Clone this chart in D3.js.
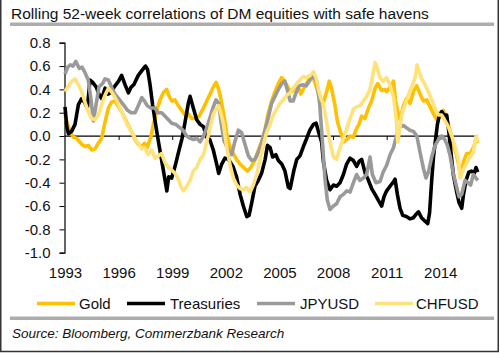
<!DOCTYPE html>
<html>
<head>
<meta charset="utf-8">
<script src="https://cdn.jsdelivr.net/npm/d3@7"></script>
<style>
  body { margin: 0; background: #fff; }
  svg { display: block; font-family: 'Liberation Sans', Arial, sans-serif; }
</style>
</head>
<body>
<script>
/* DATA: rolling 52-week correlations as [year, value] */
const gold = [
  [1993.0, 0.18], [1993.1, 0.12], [1993.28, 0.04], [1993.47, -0.01], [1993.65, -0.02],
  [1993.93, -0.07], [1994.12, -0.09], [1994.3, -0.08], [1994.49, -0.12], [1994.68, -0.11],
  [1994.87, -0.06], [1995.05, -0.02], [1995.24, 0.12], [1995.43, 0.24], [1995.6, 0.29],
  [1995.8, 0.3], [1996.0, 0.25], [1996.17, 0.21], [1996.36, 0.15], [1996.54, 0.09],
  [1996.72, 0.04], [1996.92, -0.03], [1997.1, -0.07], [1997.29, -0.09], [1997.45, -0.06],
  [1997.6, -0.1], [1997.8, -0.01], [1997.95, 0.1], [1998.13, 0.22], [1998.32, 0.31],
  [1998.5, 0.37], [1998.69, 0.4], [1998.8, 0.35], [1998.97, 0.3], [1999.15, 0.31],
  [1999.34, 0.26], [1999.53, 0.22], [1999.72, 0.18], [1999.9, 0.19], [2000.09, 0.15],
  [2000.3, 0.15], [2000.5, 0.17], [2000.75, 0.24], [2000.93, 0.3], [2001.12, 0.36],
  [2001.3, 0.42], [2001.46, 0.46], [2001.6, 0.4], [2001.75, 0.3], [2001.9, 0.17],
  [2002.04, 0.03], [2002.2, -0.08], [2002.42, -0.15], [2002.6, -0.2], [2002.79, -0.24],
  [2003.0, -0.27], [2003.2, -0.3], [2003.4, -0.27], [2003.64, -0.2], [2003.82, -0.12],
  [2004.0, -0.05], [2004.2, 0.06], [2004.38, 0.2], [2004.57, 0.3], [2004.75, 0.38],
  [2004.94, 0.45], [2005.12, 0.5], [2005.3, 0.47], [2005.5, 0.41], [2005.7, 0.38],
  [2005.87, 0.42], [2006.06, 0.42], [2006.2, 0.36], [2006.4, 0.42], [2006.62, 0.48],
  [2006.85, 0.52], [2007.0, 0.45], [2007.15, 0.38], [2007.3, 0.32], [2007.46, 0.29],
  [2007.64, 0.38], [2007.79, 0.47], [2007.93, 0.4], [2008.1, 0.27], [2008.25, 0.12],
  [2008.45, 0.02], [2008.6, -0.05], [2008.76, -0.03], [2008.95, 0.0], [2009.14, -0.01],
  [2009.3, 0.06], [2009.45, 0.1], [2009.6, 0.17], [2009.79, 0.15], [2009.98, 0.24],
  [2010.16, 0.3], [2010.35, 0.41], [2010.5, 0.45], [2010.72, 0.39], [2010.9, 0.4],
  [2011.0, 0.38], [2011.2, 0.42], [2011.38, 0.47], [2011.5, 0.3], [2011.66, 0.18],
  [2011.75, 0.14], [2011.94, 0.26], [2012.1, 0.32], [2012.31, 0.28], [2012.5, 0.38],
  [2012.68, 0.43], [2012.87, 0.36], [2013.05, 0.3], [2013.24, 0.31], [2013.43, 0.25],
  [2013.62, 0.19], [2013.8, 0.14], [2014.0, 0.18], [2014.18, 0.22], [2014.36, 0.15],
  [2014.55, 0.05], [2014.73, -0.07], [2014.92, -0.17], [2015.05, -0.26], [2015.15, -0.34],
  [2015.3, -0.22], [2015.48, -0.15], [2015.67, -0.15], [2015.85, -0.1], [2016.0, -0.03],
  [2016.1, -0.06]
];

const treasuries = [
  [1993.0, 0.25], [1993.1, 0.08], [1993.19, 0.02], [1993.37, 0.04], [1993.56, 0.1],
  [1993.75, 0.27], [1993.93, 0.32], [1994.1, 0.29], [1994.25, 0.24], [1994.4, 0.48],
  [1994.55, 0.46], [1994.75, 0.42], [1994.9, 0.36], [1995.05, 0.32], [1995.24, 0.41],
  [1995.4, 0.36], [1995.55, 0.37], [1995.8, 0.43], [1996.0, 0.47], [1996.17, 0.52],
  [1996.36, 0.44], [1996.55, 0.37], [1996.7, 0.42], [1996.85, 0.44], [1997.1, 0.52],
  [1997.3, 0.56], [1997.5, 0.6], [1997.62, 0.57], [1997.75, 0.45], [1997.9, 0.27],
  [1998.05, 0.12], [1998.22, -0.04], [1998.4, -0.2], [1998.6, -0.38], [1998.7, -0.47],
  [1998.8, -0.35], [1998.97, -0.36], [1999.16, -0.26], [1999.35, -0.14], [1999.55, -0.02],
  [1999.72, 0.12], [1999.9, 0.28], [2000.0, 0.34], [2000.2, 0.23], [2000.37, 0.14],
  [2000.56, 0.1], [2000.75, 0.08], [2000.93, -0.01], [2001.1, -0.03], [2001.3, -0.12],
  [2001.5, -0.25], [2001.6, -0.32], [2001.77, -0.24], [2001.95, -0.19], [2002.15, -0.2],
  [2002.4, -0.26], [2002.6, -0.35], [2002.8, -0.5], [2002.98, -0.6], [2003.17, -0.69],
  [2003.3, -0.68], [2003.45, -0.57], [2003.63, -0.43], [2003.82, -0.38], [2004.0, -0.32],
  [2004.2, -0.2], [2004.33, -0.08], [2004.48, -0.1], [2004.62, -0.18], [2004.8, -0.16],
  [2004.94, -0.21], [2005.13, -0.24], [2005.31, -0.3], [2005.5, -0.44], [2005.6, -0.45],
  [2005.8, -0.3], [2005.97, -0.2], [2006.15, -0.17], [2006.34, -0.09], [2006.5, -0.03],
  [2006.7, 0.05], [2006.9, 0.1], [2007.05, 0.11], [2007.2, 0.03], [2007.36, -0.05],
  [2007.46, -0.22], [2007.64, -0.38], [2007.83, -0.46], [2008.02, -0.42], [2008.2, -0.43],
  [2008.39, -0.4], [2008.58, -0.33], [2008.76, -0.24], [2008.95, -0.19], [2009.14, -0.21],
  [2009.32, -0.26], [2009.45, -0.22], [2009.6, -0.2], [2009.8, -0.32], [2009.98, -0.38],
  [2010.16, -0.45], [2010.35, -0.5], [2010.53, -0.55], [2010.72, -0.6], [2010.85, -0.52],
  [2011.0, -0.47], [2011.19, -0.43], [2011.35, -0.4], [2011.47, -0.37], [2011.6, -0.5],
  [2011.75, -0.62], [2011.9, -0.68], [2012.1, -0.69], [2012.3, -0.71], [2012.5, -0.7],
  [2012.65, -0.67], [2012.78, -0.65], [2012.95, -0.7], [2013.15, -0.73], [2013.3, -0.75],
  [2013.4, -0.66], [2013.52, -0.38], [2013.62, -0.18], [2013.72, -0.05], [2013.84, 0.1],
  [2013.95, 0.18], [2014.08, 0.21], [2014.2, 0.18], [2014.36, 0.18], [2014.47, 0.05],
  [2014.59, -0.13], [2014.73, -0.33], [2014.92, -0.48], [2015.05, -0.57], [2015.2, -0.62],
  [2015.3, -0.5], [2015.44, -0.38], [2015.6, -0.31], [2015.75, -0.3], [2015.9, -0.32],
  [2016.0, -0.27], [2016.1, -0.31]
];

const jpyusd = [
  [1993.0, 0.53], [1993.15, 0.59], [1993.3, 0.61], [1993.45, 0.6], [1993.6, 0.64],
  [1993.8, 0.58], [1993.95, 0.59], [1994.1, 0.55], [1994.3, 0.48], [1994.45, 0.32],
  [1994.59, 0.13], [1994.72, 0.25], [1994.9, 0.42], [1995.1, 0.45], [1995.24, 0.49],
  [1995.43, 0.48], [1995.6, 0.42], [1995.8, 0.36], [1996.0, 0.32], [1996.26, 0.27],
  [1996.5, 0.22], [1996.7, 0.2], [1996.92, 0.2], [1997.1, 0.26], [1997.3, 0.33],
  [1997.45, 0.3], [1997.6, 0.26], [1997.8, 0.24], [1998.04, 0.24], [1998.2, 0.2],
  [1998.41, 0.2], [1998.6, 0.17], [1998.79, 0.14], [1998.97, 0.11], [1999.2, 0.1],
  [1999.44, 0.07], [1999.6, 0.05], [1999.81, 0.0], [2000.0, -0.02], [2000.2, -0.03],
  [2000.37, -0.02], [2000.56, -0.05], [2000.75, 0.0], [2000.93, 0.07], [2001.12, 0.16],
  [2001.3, 0.25], [2001.45, 0.31], [2001.6, 0.28], [2001.75, 0.1], [2001.9, -0.04],
  [2002.14, -0.12], [2002.33, -0.16], [2002.5, -0.05], [2002.7, 0.05], [2002.88, 0.03],
  [2003.07, -0.07], [2003.26, -0.17], [2003.45, -0.21], [2003.63, -0.2], [2003.82, -0.14],
  [2004.0, -0.06], [2004.19, 0.05], [2004.38, 0.16], [2004.56, 0.28], [2004.75, 0.34],
  [2004.94, 0.4], [2005.13, 0.45], [2005.3, 0.47], [2005.45, 0.39], [2005.6, 0.3],
  [2005.77, 0.3], [2005.95, 0.38], [2006.1, 0.43], [2006.3, 0.44], [2006.5, 0.43],
  [2006.71, 0.48], [2006.9, 0.52], [2007.08, 0.47], [2007.25, 0.28], [2007.42, -0.08],
  [2007.55, -0.37], [2007.68, -0.55], [2007.83, -0.63], [2008.02, -0.6], [2008.2, -0.58],
  [2008.39, -0.52], [2008.58, -0.5], [2008.76, -0.47], [2008.95, -0.48], [2009.14, -0.4],
  [2009.32, -0.33], [2009.5, -0.38], [2009.7, -0.36], [2009.88, -0.33], [2010.07, -0.18],
  [2010.2, -0.33], [2010.4, -0.4], [2010.63, -0.39], [2010.8, -0.31], [2011.0, -0.25],
  [2011.19, -0.16], [2011.38, -0.1], [2011.56, 0.01], [2011.75, 0.08], [2011.94, 0.09],
  [2012.12, 0.07], [2012.3, 0.05], [2012.5, 0.04], [2012.69, 0.0], [2012.87, -0.14],
  [2013.06, -0.28], [2013.2, -0.36], [2013.35, -0.3], [2013.52, -0.18], [2013.71, -0.08],
  [2013.9, -0.03], [2014.08, 0.0], [2014.25, -0.03], [2014.4, -0.08], [2014.55, -0.17],
  [2014.73, -0.32], [2014.92, -0.44], [2015.05, -0.52], [2015.2, -0.5], [2015.39, -0.38],
  [2015.55, -0.4], [2015.7, -0.42], [2015.85, -0.33], [2016.0, -0.36], [2016.1, -0.38]
];

const chfusd = [
  [1993.0, 0.38], [1993.15, 0.42], [1993.37, 0.47], [1993.56, 0.49], [1993.75, 0.44],
  [1993.93, 0.38], [1994.12, 0.29], [1994.3, 0.21], [1994.49, 0.15], [1994.68, 0.14],
  [1994.87, 0.18], [1995.05, 0.27], [1995.24, 0.35], [1995.43, 0.41], [1995.6, 0.38],
  [1995.8, 0.33], [1996.0, 0.27], [1996.17, 0.21], [1996.36, 0.14], [1996.54, 0.08],
  [1996.72, 0.04], [1996.92, -0.02], [1997.1, -0.06], [1997.29, -0.11], [1997.45, -0.1],
  [1997.66, -0.16], [1997.85, -0.12], [1998.04, -0.19], [1998.23, -0.17], [1998.41, -0.15],
  [1998.6, -0.23], [1998.8, -0.27], [1998.97, -0.29], [1999.15, -0.32], [1999.34, -0.37],
  [1999.5, -0.44], [1999.65, -0.47], [1999.81, -0.43], [2000.0, -0.38], [2000.18, -0.3],
  [2000.37, -0.27], [2000.56, -0.2], [2000.75, -0.16], [2000.93, -0.05], [2001.12, 0.07],
  [2001.3, 0.19], [2001.49, 0.24], [2001.6, 0.26], [2001.75, 0.18], [2001.87, 0.1],
  [2002.05, -0.1], [2002.24, -0.25], [2002.42, -0.36], [2002.61, -0.42], [2002.79, -0.45],
  [2002.98, -0.46], [2003.16, -0.44], [2003.36, -0.48], [2003.54, -0.42], [2003.73, -0.33],
  [2003.91, -0.2], [2004.1, -0.08], [2004.28, 0.03], [2004.48, 0.1], [2004.66, 0.18],
  [2004.85, 0.23], [2005.03, 0.28], [2005.22, 0.31], [2005.4, 0.35], [2005.6, 0.37],
  [2005.77, 0.41], [2005.97, 0.45], [2006.15, 0.48], [2006.34, 0.51], [2006.5, 0.5],
  [2006.72, 0.52], [2006.9, 0.55], [2007.05, 0.5], [2007.18, 0.4], [2007.3, 0.33],
  [2007.46, 0.27], [2007.64, 0.12], [2007.83, -0.05], [2008.02, -0.18], [2008.2, -0.2],
  [2008.39, -0.1], [2008.58, -0.02], [2008.76, 0.06], [2008.95, 0.15], [2009.14, 0.23],
  [2009.32, 0.25], [2009.51, 0.26], [2009.7, 0.3], [2009.88, 0.34], [2010.07, 0.4],
  [2010.2, 0.5], [2010.35, 0.63], [2010.45, 0.6], [2010.63, 0.5], [2010.8, 0.47],
  [2011.0, 0.5], [2011.19, 0.43], [2011.38, 0.34], [2011.52, 0.17], [2011.62, -0.05],
  [2011.72, 0.05], [2011.84, 0.18], [2012.03, 0.27], [2012.21, 0.35], [2012.4, 0.42],
  [2012.59, 0.5], [2012.7, 0.61], [2012.8, 0.56], [2012.96, 0.49], [2013.15, 0.44],
  [2013.33, 0.38], [2013.52, 0.31], [2013.7, 0.24], [2013.9, 0.18], [2014.08, 0.18],
  [2014.27, 0.13], [2014.45, 0.08], [2014.64, 0.0], [2014.83, -0.09], [2015.01, -0.2],
  [2015.11, -0.36], [2015.25, -0.3], [2015.48, -0.23], [2015.67, -0.18], [2015.85, -0.14],
  [2016.0, 0.0], [2016.1, -0.05]
];

const seriesNames = ['Gold', 'Treasuries', 'JPYUSD', 'CHFUSD'];
const seriesColors = ['#ffc000', '#000000', '#9a9a9a', '#ffe27a'];
const yTicks = [0.8, 0.6, 0.4, 0.2, 0.0, -0.2, -0.4, -0.6, -0.8, -1.0];
const xTicks = [1993, 1996, 1999, 2002, 2005, 2008, 2011, 2014];

const allSeries = [gold, treasuries, jpyusd, chfusd];

/* LAYOUT */
const width = 500;
const height = 353;
const font = "'Liberation Sans', Arial, sans-serif";

const svg = d3.select('body')
  .append('svg')
  .attr('width', width)
  .attr('height', height);

// outer frame
svg.append('rect')
  .attr('x', 0.75)
  .attr('y', -4)
  .attr('width', 497.5)
  .attr('height', 355.5)
  .attr('fill', 'none')
  .attr('stroke', '#333')
  .attr('stroke-width', 1.5);

svg.append('text')
  .attr('x', 11)
  .attr('y', 18.5)
  .attr('font-size', 15.5)
  .attr('fill', '#111')
  .text('Rolling 52-week correlations of DM equities with safe havens');

// grey rules under the title and above the source
svg.append('rect').attr('x', 10).attr('y', 22.5).attr('width', 484).attr('height', 3.5).attr('fill', '#adadad');
svg.append('rect').attr('x', 10).attr('y', 316.5).attr('width', 484).attr('height', 3.5).attr('fill', '#adadad');

const xScale = d3.scaleLinear()
  .domain([1993, 2016.1])
  .range([65, 477.8]);

const yScale = d3.scaleLinear()
  .domain([-1, 0.8])
  .range([252.7, 42.7]);

// y axis
const yAxis = d3.axisLeft(yScale)
  .tickValues(yTicks)
  .tickSize(5)
  .tickPadding(9)
  .tickFormat(d => d.toFixed(1));

const yGroup = svg.append('g')
  .attr('transform', 'translate(64.5 0)')
  .call(yAxis);
yGroup.select('.domain').attr('stroke', '#000').attr('stroke-width', 1.2);
yGroup.selectAll('.tick line').attr('stroke', '#000');
yGroup.selectAll('text')
  .attr('font-family', font)
  .attr('font-size', 15)
  .attr('fill', '#111');

// zero line with ticks
const zeroAxis = d3.axisBottom(xScale)
  .tickValues(xTicks.slice(1))
  .tickSize(4)
  .tickSizeOuter(0)
  .tickFormat('');

const zeroGroup = svg.append('g')
  .attr('transform', `translate(0 ${yScale(0)})`)
  .call(zeroAxis);
zeroGroup.select('.domain').attr('d', `M64.5,0H${xScale.range()[1]}`).attr('stroke', '#000').attr('stroke-width', 1.2);
zeroGroup.selectAll('.tick line').attr('stroke', '#000');

// year labels below the plot
const xAxis = d3.axisBottom(xScale)
  .tickValues(xTicks)
  .tickSize(0)
  .tickPadding(11.6)
  .tickFormat(d3.format('d'));

const xGroup = svg.append('g')
  .attr('transform', 'translate(0 256)')
  .call(xAxis);
xGroup.select('.domain').remove();
xGroup.selectAll('text')
  .attr('font-family', font)
  .attr('font-size', 15)
  .attr('fill', '#111');

// series lines
const lineGenerator = d3.line()
  .x(d => xScale(d[0]))
  .y(d => yScale(d[1]));

svg.append('g')
  .selectAll('path')
  .data(allSeries)
  .join('path')
  .attr('d', d => lineGenerator(d))
  .attr('fill', 'none')
  .attr('stroke', (d, i) => seriesColors[i])
  .attr('stroke-width', 3.6)
  .attr('stroke-linejoin', 'round');

// legend
const legendX = [37, 127, 257, 375];
const legend = svg.append('g')
  .selectAll('g')
  .data(seriesNames)
  .join('g')
  .attr('transform', (d, i) => `translate(${legendX[i]} 303.5)`);

legend.append('line')
  .attr('x1', 0)
  .attr('x2', 38)
  .attr('stroke', (d, i) => seriesColors[i])
  .attr('stroke-width', 3.5);

legend.append('text')
  .attr('x', (d, i) => i === 0 ? 42 : i === 3 ? 41 : 43)
  .attr('y', 5)
  .attr('font-size', 15)
  .attr('fill', '#111')
  .text(d => d);

svg.append('text')
  .attr('x', 12)
  .attr('y', 338)
  .attr('font-size', 13.5)
  .attr('font-style', 'italic')
  .attr('fill', '#111')
  .text('Source: Bloomberg, Commerzbank Research');
</script>
</body>
</html>
